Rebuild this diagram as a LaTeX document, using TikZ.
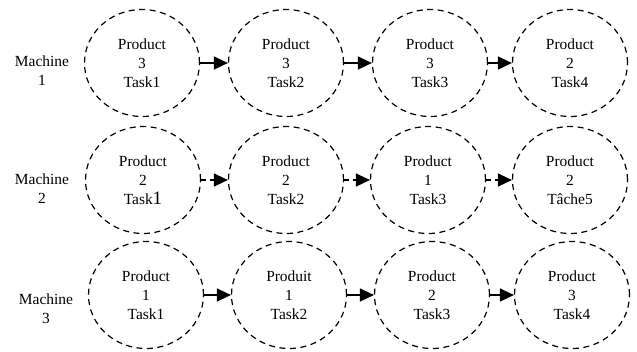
\documentclass[tikz,border=0pt]{standalone}
\usepackage{fontspec}
\setmainfont{Liberation Serif}
\usetikzlibrary{shapes.geometric,arrows.meta}
\begin{document}
\begin{tikzpicture}[x=1bp,y=-1bp,
  task/.style={ellipse,draw,dash pattern=on 6bp off 4.5bp,line width=1.2bp,
    minimum width=115bp,minimum height=107bp,inner sep=0pt,align=center,
    font=\fontsize{15.5}{19}\selectfont},
  mach/.style={align=center,font=\fontsize{15.5}{19}\selectfont},
  flow/.style={line width=1.5bp,-{Triangle[length=14bp,width=13bp]}},
  dflow/.style={flow,dash pattern=on 5bp off 4bp}]
\useasboundingbox (0,0) rectangle (637,351);
% row 1
\node[mach] (m1) at (42,71) {Machine\\1};
\node[task] (a1) at (142,63) {Product\\3\\Task1};
\node[task] (a2) at (286,63) {Product\\3\\Task2};
\node[task] (a3) at (430,63) {Product\\3\\Task3};
\node[task] (a4) at (570,63) {Product\\2\\Task4};
% row 2
\node[mach] (m2) at (42,189) {Machine\\2};
\node[task] (b1) at (143,180) {Product\\2\\Task{\fontsize{19}{19}\selectfont 1}};
\node[task] (b2) at (286,180) {Product\\2\\Task2};
\node[task] (b3) at (428,180) {Product\\1\\Task3};
\node[task] (b4) at (570,180) {Product\\2\\Tâche5};
% row 3
\node[mach] (m3) at (46,309) {Machine\\3};
\node[task] (c1) at (146,295) {Product\\1\\Task1};
\node[task] (c2) at (289,295) {Produit\\1\\Task2};
\node[task] (c3) at (432,295) {Product\\2\\Task3};
\node[task] (c4) at (572,295) {Product\\3\\Task4};
% connectors
\draw[flow] (a1.east) -- (a2.west);
\draw[flow] (a2.east) -- (a3.west);
\draw[flow] (a3.east) -- (a4.west);
\draw[dflow] (b1.east) -- (b2.west);
\draw[dflow] (b2.east) -- (b3.west);
\draw[dflow] (b3.east) -- (b4.west);
\draw[flow] (c1.east) -- (c2.west);
\draw[flow] (c2.east) -- (c3.west);
\draw[flow] (c3.east) -- (c4.west);
\end{tikzpicture}
\end{document}
